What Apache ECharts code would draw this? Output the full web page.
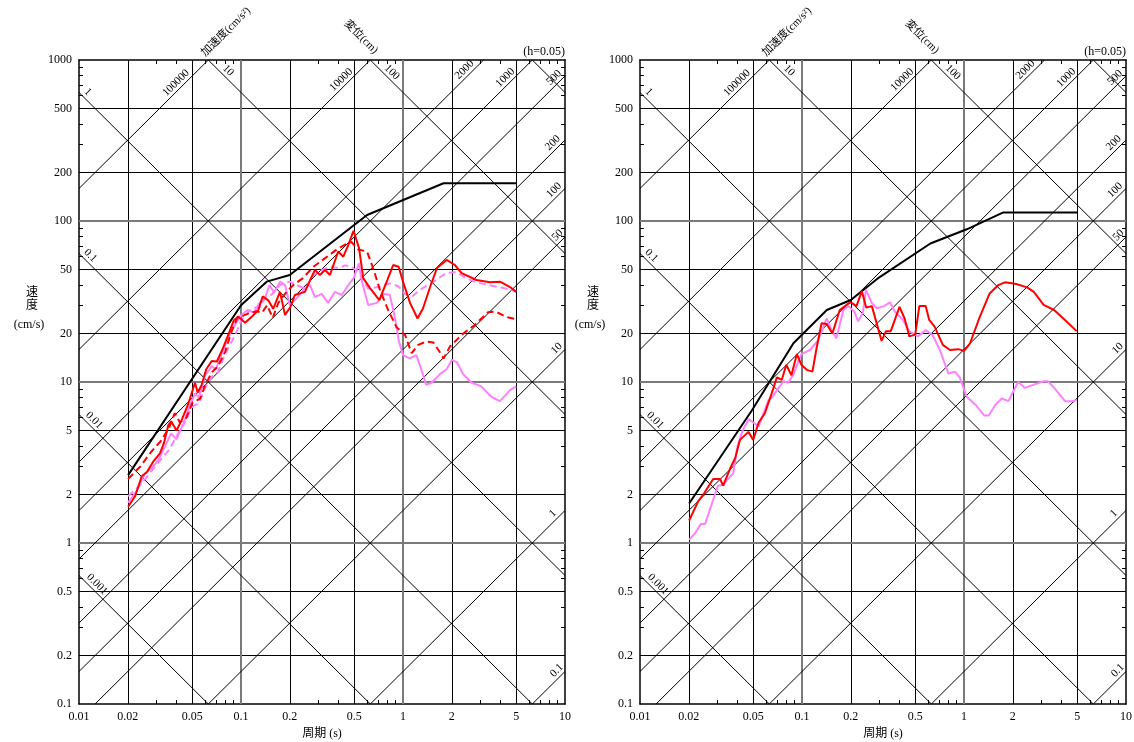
<!DOCTYPE html>
<html><head><meta charset="utf-8">
<script src="https://cdn.jsdelivr.net/npm/echarts@6/dist/echarts.min.js"></script>
<style>html,body{margin:0;padding:0;background:#fff}#c{width:1134px;height:742px}</style>
</head><body><div id="c"></div>
<script>
// ---------- tick labels / nomograph values ----------
const xTickLabels = [0.01,0.02,0.05,0.1,0.2,0.5,1,2,5,10];
const yTickLabels = [0.1,0.2,0.5,1,2,5,10,20,50,100,200,500,1000];
const xGrid = [0.02,0.05,0.2,0.5,2,5];
const xGridDecade = [0.1,1];
const yGrid = [0.2,0.5,2,5,20,50,200,500];
const yGridDecade = [1,10,100];
const accelLines = [0.1,1,10,50,100,200,500,1000,2000,10000,100000]; // cm/s2
const dispLines = [0.001,0.01,0.1,1,10,100,1000];                   // cm
const accelLabels = [[100000,0.0424],[10000,0.444],[2000,2.56],[1000,4.57],[500,9.14],[200,8.98],[100,9.14],[50,9.6],[10,9.5],[1,8.98],[0.1,9.5]];
const dispLabels = [[1,0.0106],[0.1,0.0110],[0.01,0.0116],[0.001,0.0121],[10,0.078],[100,0.80]];

// ---------- left panel data ----------
const L_designT  = [0.0201,0.1,0.144,0.2,0.6,1.78,5];
const L_designSv = [2.64,30,42,46.2,109,171.5,171.5];

const L_redT  = [0.0201,0.0222,0.0244,0.0262,0.0287,0.0316,0.0335,0.0356,0.037,0.040,0.043,0.047,0.052,0.054,0.057,0.061,0.066,0.071,0.078,0.084,0.09,0.096,0.106,0.116,0.128,0.136,0.148,0.158,0.174,0.187,0.201,0.215,0.248,0.27,0.286,0.307,0.33,0.354,0.398,0.428,0.46,0.495,0.535,0.569,0.626,0.714,0.80,0.87,0.94,1.0,1.105,1.23,1.33,1.47,1.62,1.86,2.09,2.30,2.84,3.44,3.97,4.58,5.0];
const L_redSv = [1.68,1.95,2.6,2.75,3.2,3.6,4.2,5.4,5.7,5.0,5.8,7.2,9.9,8.6,9.5,12.0,13.5,13.4,16.5,20,24,25.5,23.3,25.3,28,34,32,28.5,36.3,26.1,29,34.7,36.3,44,49.6,46.2,49.6,46.2,64.6,60,71,87,68,44,38.3,32.3,43,53.3,52,42,31,24.8,28.7,38.9,51,57.3,53.3,47.5,43,41.6,42,38.9,36.3];

const L_redDashT  = [0.0201,0.024,0.028,0.032,0.036,0.039,0.042,0.046,0.05,0.056,0.06,0.066,0.072,0.08,0.088,0.095,0.105,0.115,0.125,0.135,0.145,0.157,0.17,0.19,0.21,0.24,0.28,0.323,0.39,0.45,0.48,0.53,0.60,0.66,0.72,0.81,0.91,1.03,1.13,1.24,1.39,1.54,1.69,1.78,1.95,2.30,2.77,3.35,3.72,4.37,5.0];
const L_redDashSv = [2.5,3.0,3.7,4.3,5.2,6.4,5.6,6.0,7.4,7.9,9.5,11.5,12.5,15.5,21,25,26,27,27.5,27,30,25,31,36,40,44,52,57.8,66.5,72.5,74,66.5,64.6,49.6,37.3,28,22,19.6,15.1,17,17.8,17.6,15.3,14.0,16.6,19.6,22.6,27.1,27.4,25.3,24.5];

const L_vioT  = [0.0201,0.0227,0.0255,0.028,0.031,0.034,0.037,0.040,0.044,0.048,0.052,0.055,0.06,0.066,0.07,0.076,0.082,0.088,0.095,0.1,0.11,0.12,0.13,0.14,0.15,0.16,0.174,0.187,0.20,0.22,0.248,0.267,0.286,0.315,0.345,0.38,0.42,0.46,0.495,0.535,0.555,0.61,0.69,0.76,0.83,0.89,0.94,1.0,1.10,1.21,1.30,1.39,1.50,1.69,1.86,2.0,2.15,2.35,2.65,3.04,3.5,3.97,4.58,5.0];
const L_vioSv = [1.78,2.1,2.7,2.9,3.3,4.0,4.8,4.4,5.5,7.0,8.5,8.0,11,12.5,12,15,18,21,24,26,28,27,31,33,40,36,42,40,30.1,33,38.3,40,33.7,35.3,31,36.3,34.7,40,44,54.6,43,30.1,31,35.3,34.7,25.3,18.2,14.7,14.0,14.7,11.9,9.6,9.9,11.2,12.0,13.7,13.3,11.2,9.9,9.4,8.1,7.6,8.9,9.4];

const L_vioDashT  = [0.0201,0.024,0.028,0.032,0.036,0.04,0.045,0.05,0.055,0.06,0.066,0.072,0.08,0.088,0.095,0.1,0.11,0.12,0.13,0.14,0.155,0.174,0.2,0.22,0.25,0.28,0.32,0.36,0.40,0.44,0.48,0.54,0.61,0.72,0.83,0.93,1.03,1.13,1.27,1.54,1.86,2.15,2.46,2.84,3.6,4.2,4.8,5.0];
const L_vioDashSv = [1.95,2.3,2.8,3.3,3.8,4.6,5.6,7.0,7.4,9.2,10.8,11.5,15,18,21,24,27,29,29,33,35,40,42,40,38,46,50,52,51,53,52,47.5,38,39,41,39.5,35.3,33.7,37.3,42,47.7,48,44,41.6,39.5,38.3,37,36.5];

// ---------- right panel data ----------
const R_designT  = [0.0201,0.0489,0.0885,0.1423,0.2,0.3,0.62,1.04,1.75,5];
const R_designSv = [1.76,6.63,17.4,28,32.3,44.7,72.5,88.8,113,113];

const R_redT  = [0.0201,0.0229,0.0246,0.0283,0.0312,0.0326,0.036,0.0387,0.0414,0.0467,0.050,0.054,0.059,0.065,0.070,0.075,0.080,0.086,0.093,0.099,0.107,0.116,0.123,0.132,0.142,0.154,0.171,0.188,0.20,0.217,0.234,0.249,0.27,0.31,0.33,0.353,0.40,0.43,0.46,0.50,0.53,0.58,0.61,0.66,0.74,0.82,0.92,1.0,1.09,1.25,1.44,1.63,1.79,2.10,2.45,2.70,3.1,3.6,4.2,4.96];
const R_redSv = [1.38,1.82,2.0,2.5,2.5,2.27,2.9,3.37,4.37,4.9,4.37,5.6,6.4,8.5,10.7,10.3,12.8,11.0,14.9,12.8,11.9,11.6,16.2,23.2,22.9,20.0,28,30.1,31.3,29.6,36.7,29,29.6,18.0,20.7,20.7,29.3,24.8,19.2,19.7,29.6,29.6,24.3,22.0,17.0,15.8,16.0,15.6,17.4,25.3,35.5,40,41.6,40.6,38.7,36.3,30.1,28,24.3,20.7];

const R_vioT  = [0.0201,0.0219,0.0237,0.0252,0.0278,0.0303,0.0326,0.035,0.0376,0.040,0.043,0.047,0.05,0.054,0.058,0.062,0.066,0.071,0.077,0.082,0.088,0.099,0.112,0.126,0.142,0.152,0.163,0.18,0.193,0.211,0.222,0.237,0.248,0.27,0.29,0.32,0.35,0.375,0.42,0.46,0.52,0.58,0.64,0.71,0.80,0.88,0.94,1.04,1.18,1.33,1.42,1.56,1.71,1.88,2.01,2.16,2.37,2.67,3.1,3.3,3.6,4.2,4.6,4.96];
const R_vioSv = [1.05,1.15,1.31,1.31,1.76,2.27,2.3,2.5,2.7,4.0,5.0,5.9,5.6,5.3,6.4,7.7,8.1,9.1,10.1,9.9,11.0,14.9,15.8,18.2,24.8,21.0,18.7,28,29.6,27.3,23.8,26.7,37.3,30.9,28.7,29.6,31.2,27.3,24.3,20.6,19.2,21.0,19.6,15.8,11.3,11.6,10.7,8.1,7.2,6.2,6.2,7.2,7.9,7.6,8.7,10.0,9.2,9.6,10.1,10.1,9.2,7.6,7.6,7.7];

// ---------- layout / style ----------
const SERIF = "'Liberation Serif','DejaVu Serif',serif";
const CJK = "'Liberation Serif','Noto Sans CJK JP',serif";
const GRIDS = [
  {left:79, top:60, width:486, height:644, containLabel:false, outerBoundsMode:'none'},
  {left:640, top:60, width:486, height:644, containLabel:false, outerBoundsMode:'none'}
];
const TWO_PI = 2*Math.PI;
const RED = '#ff0000', VIO = '#ff80ff';

function fmt(v){ return String(Number(Number(v).toPrecision(3))); }
function minorTicks(lo, hi){
  const out=[]; for(let d=lo; d<hi*0.999; d*=10){ [3,4,6,7,8,9].forEach(m=>out.push(Number((d*m).toPrecision(3)))); } return out;
}
const xMinor = minorTicks(0.01,10), yMinor = minorTicks(0.1,1000);

function xAx(gi,pos,main){
  return {type:'log',logBase:10,gridIndex:gi,position:pos,min:0.01,max:10,
    axisLine:{show:true,onZero:false,lineStyle:{color:'#000',width:1.5}},
    axisTick:{show:true,inside:true,length:4,customValues:xMinor,lineStyle:{color:'#000',width:1}},
    axisLabel:{show:main,customValues:xTickLabels,formatter:fmt,margin:7,color:'#000',fontFamily:SERIF,fontSize:12},
    splitLine:{show:false},minorTick:{show:false},minorSplitLine:{show:false},
    name: main ? '周期 (s)' : '', nameLocation:'middle', nameGap:19,
    nameTextStyle:{color:'#000',fontFamily:CJK,fontSize:12}};
}
function yAx(gi,pos,main){
  return {type:'log',logBase:10,gridIndex:gi,position:pos,min:0.1,max:1000,
    axisLine:{show:true,onZero:false,lineStyle:{color:'#000',width:1.5}},
    axisTick:{show:true,inside:true,length:4,customValues:yMinor,lineStyle:{color:'#000',width:1}},
    axisLabel:{show:main,customValues:yTickLabels,formatter:fmt,margin:7,color:'#000',fontFamily:SERIF,fontSize:12},
    splitLine:{show:false},minorTick:{show:false},minorSplitLine:{show:false}};
}

function accelSeg(Sa){
  const t1=Math.max(0.01,0.1*TWO_PI/Sa), t2=Math.min(10,1000*TWO_PI/Sa);
  return t1<t2 ? {coords:[[t1,Sa*t1/TWO_PI],[t2,Sa*t2/TWO_PI]]} : null;
}
function dispSeg(Sd){
  const t1=Math.max(0.01,TWO_PI*Sd/1000), t2=Math.min(10,TWO_PI*Sd/0.1);
  return t1<t2 ? {coords:[[t1,TWO_PI*Sd/t1],[t2,TWO_PI*Sd/t2]]} : null;
}

function pairs(T,V){ return T.map((t,i)=>[t,V[i]]); }

const series=[];
function addStatic(gi){
  const xi=gi*2, yi=gi*2;
  const mk=(data,color,width,z)=>({type:'lines',coordinateSystem:'cartesian2d',xAxisIndex:xi,yAxisIndex:yi,
    polyline:false,silent:true,z:z,animation:false,data:data,
    lineStyle:{color:color,width:width,opacity:1,curveness:0}});
  const minor=[].concat(xGrid.map(t=>({coords:[[t,0.1],[t,1000]]})), yGrid.map(v=>({coords:[[0.01,v],[10,v]]})));
  const dec=[].concat(xGridDecade.map(t=>({coords:[[t,0.1],[t,1000]]})), yGridDecade.map(v=>({coords:[[0.01,v],[10,v]]})));
  series.push(mk(minor,'#000',1,1));
  series.push(mk(dec,'#7a7a7a',2,1));
  const diag=[].concat(accelLines.map(accelSeg), dispLines.map(dispSeg)).filter(Boolean);
  series.push(mk(diag,'#000',1,1));
}
function addLine(gi,T,V,color,dashed){
  series.push({type:'line',xAxisIndex:gi*2,yAxisIndex:gi*2,data:pairs(T,V),symbol:'none',
    silent:true,animation:false,z:3,clip:true,
    lineStyle:{color:color,width:2,type:dashed?[7,4]:'solid'}});
}
addStatic(0); addStatic(1);
addLine(0,L_designT,L_designSv,'#000',false);
addLine(0,L_vioDashT,L_vioDashSv,VIO,true);
addLine(0,L_vioT,L_vioSv,VIO,false);
addLine(0,L_redDashT,L_redDashSv,RED,true);
addLine(0,L_redT,L_redSv,RED,false);
addLine(1,R_designT,R_designSv,'#000',false);
addLine(1,R_vioT,R_vioSv,VIO,false);
addLine(1,R_redT,R_redSv,RED,false);

const chart = echarts.init(document.getElementById('c'));
chart.setOption({
  animation:false, backgroundColor:'#fff',
  grid: GRIDS,
  xAxis:[xAx(0,'bottom',true),xAx(0,'top',false),xAx(1,'bottom',true),xAx(1,'top',false)],
  yAxis:[yAx(0,'left',true),yAx(0,'right',false),yAx(1,'left',true),yAx(1,'right',false)],
  series: series
});

// ---------- text on the nomograph ----------
const graphics=[];
const K=4.6;
GRIDS.forEach((g,gi)=>{
  const ax={xAxisIndex:gi*2,yAxisIndex:gi*2};
  accelLabels.forEach(([Sa,T])=>{
    const p=chart.convertToPixel(ax,[T,Sa*T/TWO_PI]);
    graphics.push({type:'text',x:p[0]-K,y:p[1]-K,rotation:Math.PI/4,silent:true,z:10,
      style:{text:fmt(Sa),fontFamily:SERIF,fontSize:11,fill:'#000',align:'center',verticalAlign:'middle'}});
  });
  dispLabels.forEach(([Sd,T])=>{
    const p=chart.convertToPixel(ax,[T,TWO_PI*Sd/T]);
    graphics.push({type:'text',x:p[0]+K,y:p[1]-K,rotation:-Math.PI/4,silent:true,z:10,
      style:{text:fmt(Sd),fontFamily:SERIF,fontSize:11,fill:'#000',align:'center',verticalAlign:'middle'}});
  });
  const L=g.left;
  graphics.push({type:'text',x:L+147,y:32,rotation:Math.PI/4,silent:true,
    style:{text:'加速度(cm/s²)',fontFamily:CJK,fontSize:11,fill:'#000',align:'center',verticalAlign:'middle'}});
  graphics.push({type:'text',x:L+282,y:37,rotation:-Math.PI/4,silent:true,
    style:{text:'変位(cm)',fontFamily:CJK,fontSize:11,fill:'#000',align:'center',verticalAlign:'middle'}});
  graphics.push({type:'text',x:L+g.width,y:52,silent:true,
    style:{text:'(h=0.05)',fontFamily:SERIF,fontSize:12,fill:'#000',align:'right',verticalAlign:'middle'}});
  graphics.push({type:'text',x:L-47,y:299,silent:true,
    style:{text:'速\n度',fontFamily:CJK,fontSize:12,lineHeight:13,fill:'#000',align:'center',verticalAlign:'middle'}});
  graphics.push({type:'text',x:L-50,y:325,silent:true,
    style:{text:'(cm/s)',fontFamily:SERIF,fontSize:12,fill:'#000',align:'center',verticalAlign:'middle'}});
});
chart.setOption({graphic:graphics});
</script></body></html>
